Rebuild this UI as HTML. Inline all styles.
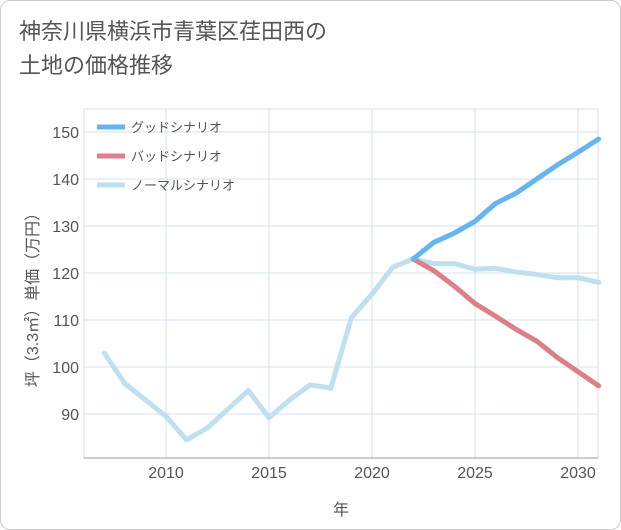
<!DOCTYPE html>
<html><head><meta charset="utf-8"><style>
body{margin:0;background:#fff;}
#wrap{position:relative;width:619px;height:528px;border:1px solid #ccc;border-radius:10px;overflow:hidden;background:#fff;font-family:"Liberation Sans","Noto Sans CJK JP",sans-serif;}
#title{position:absolute;left:18px;top:14px;font-size:22px;line-height:34px;color:#555;}
</style></head><body>
<div id="wrap">
<div id="title">神奈川県横浜市青葉区荏田西の<br>土地の価格推移</div>
<svg id="chart" width="621" height="530" style="position:absolute;left:0;top:0"></svg>
</div>
<script>
const normalYears=[2007,2008,2009,2010,2011,2012,2013,2014,2015,2016,2017,2018,2019,2020,2021,2022,2023,2024,2025,2026,2027,2028,2029,2030,2031];
const normalValues=[103,96.5,93,89.5,84.5,87,91,95,89.2,93,96.2,95.5,110.5,115.5,121.2,123,122,122,120.8,121,120.2,119.7,119,119,118];
const goodYears=[2022,2023,2024,2025,2026,2027,2028,2029,2030,2031];
const goodValues=[123,126.5,128.5,131,134.8,137,140,143,145.7,148.5];
const badYears=[2022,2023,2024,2025,2026,2027,2028,2029,2030,2031];
const badValues=[123,120.5,117.2,113.5,110.8,108,105.5,102,99,96];
const xTicks=[2010,2015,2020,2025,2030];
const yTicks=[90,100,110,120,130,140,150];
const legendLabels=["グッドシナリオ","バッドシナリオ","ノーマルシナリオ"];
const NS="http://www.w3.org/2000/svg";
const svg=document.getElementById('chart');
const L=83,R=597,T=108,B=457;
const x=v=>165+(v-2010)*20.6;
const y=v=>131+(150-v)*4.7;
function el(t,a){const e=document.createElementNS(NS,t);for(const k in a)e.setAttribute(k,a[k]);svg.appendChild(e);return e;}
const bg=el('rect',{x:L,y:T,width:R-L,height:B-T,fill:'#fff',stroke:'#ddd'});


xTicks.forEach(t=>{const g=el('line',{x1:x(t),x2:x(t),y1:T,y2:B,stroke:'#d5e3ec'});


const tx=el('text',{x:x(t),y:B+20,'text-anchor':'middle','font-size':16,fill:'#555'});tx.textContent=t;

});
yTicks.forEach(t=>{const g=el('line',{x1:L,x2:R,y1:y(t),y2:y(t),stroke:'#d5e3ec'});


const tx=el('text',{x:L-5,y:y(t)+6,'text-anchor':'end','font-size':16,fill:'#555'});tx.textContent=t;

});
const xl=el('line',{x1:L,x2:R,y1:B,y2:B,stroke:'#999'});


const xt=el('text',{x:340,y:514,'text-anchor':'middle','font-size':16,fill:'#555'});xt.textContent='年';


const yt=el('text',{x:0,y:0,'text-anchor':'middle','font-size':16,fill:'#555',transform:'translate(37,295) rotate(-90)'});yt.textContent='坪（3.3㎡）単価（万円）';


function line(xs,vs,c,name){const d=xs.map((t,i)=>(i?'L':'M')+x(t)+','+y(vs[i])).join('');
const p=el('path',{d:d,fill:'none',stroke:c,'stroke-width':5,'stroke-linejoin':'round','stroke-linecap':'round'});

}
line(normalYears,normalValues,'#bfe0ee','normal-scenario-line');
line(badYears,badValues,'#dc7f88','bad-scenario-line');
line(goodYears,goodValues,'#64b5f0','good-scenario-line');
const lc=['#64b5f0','#dc7f88','#bfe0ee'];
legendLabels.forEach((s,i)=>{const yy=126+i*29;
const l=el('line',{x1:96,x2:124,y1:yy,y2:yy,stroke:lc[i],'stroke-width':5});


const t=el('text',{x:130,y:yy+5,'font-size':13,fill:'#555'});t.textContent=s;

});
</script>
</body></html>
